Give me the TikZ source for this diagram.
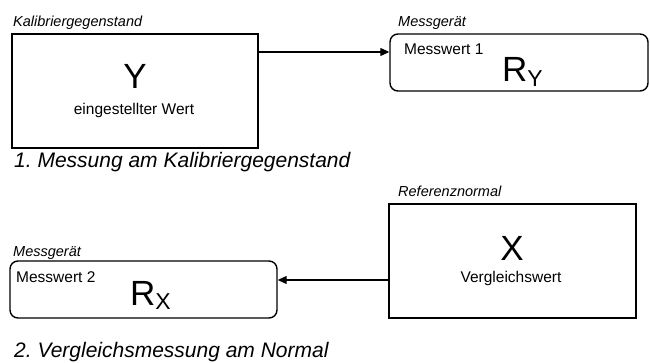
\documentclass[tikz,border=0pt]{standalone}
\usepackage{fontspec}
\setmainfont{Liberation Sans}
\usetikzlibrary{arrows.meta}
\frenchspacing
\begin{document}
\begin{tikzpicture}[x=1pt,y=-1pt,
  box/.style={draw,line width=1.4pt,inner sep=0pt},
  rbox/.style={box,rounded corners=8pt},
  lab/.style={anchor=base west,inner sep=0pt,font=\fontsize{14.5}{16}\selectfont\itshape},
  captext/.style={anchor=base west,inner sep=0pt,font=\fontsize{21}{24}\selectfont\itshape},
  small/.style={inner sep=0pt,font=\fontsize{15.5}{18}\selectfont},
  big/.style={inner sep=0pt,font=\fontsize{35}{38}\selectfont},
  arr/.style={line width=1.2pt,-{Triangle[length=9pt,width=8pt]}}]
\useasboundingbox (0,0) rectangle (650,363);
% boxes
\node[box,minimum width=246pt,minimum height=114pt] (Y) at (135,91) {};
\node[rbox,minimum width=258pt,minimum height=57pt] (M1) at (519,62.5) {};
\node[box,minimum width=247pt,minimum height=114pt] (X) at (512.5,261) {};
\node[rbox,minimum width=267pt,minimum height=57pt] (M2) at (143.5,289.5) {};
% labels
\node[lab] (lY) at (13,27) {Kalibriergegenstand};
\node[lab] (lM1) at (398,27) {Messgerät};
\node[lab] (lX) at (398,197) {Referenznormal};
\node[lab] (lM2) at (13,257) {Messgerät};
% captions
\node[captext] (c1) at (14,168) {1. Messung am Kalibriergegenstand};
\node[captext] (c2) at (14,357) {2. Vergleichsmessung am Normal};
% inner texts
\node[big,anchor=base] (tY) at (135,89) {Y};
\node[small,anchor=base] (wY) at (134,115) {eingestellter Wert};
\node[big,anchor=base] (tX) at (512,261) {X};
\node[small,anchor=base] (wX) at (511,283) {Vergleichswert};
\node[small,anchor=base west] (m1) at (404,55) {Messwert 1};
\node[big,anchor=base west] (r1) at (502,82) {R\raisebox{-5pt}{\fontsize{23}{25}\selectfont Y}};
\node[small,anchor=base west] (m2) at (16,282) {Messwert 2};
\node[big,anchor=base west] (r2) at (130,305) {R\raisebox{-5pt}{\fontsize{23}{25}\selectfont X}};
% connectors
\coordinate (a1) at ([yshift=10.5pt]M1.west);
\draw[arr] (a1 -| Y.east) -- (a1);
\coordinate (a2) at ([yshift=9.5pt]M2.east);
\draw[arr] (a2 -| X.west) -- (a2);
\end{tikzpicture}
\end{document}
